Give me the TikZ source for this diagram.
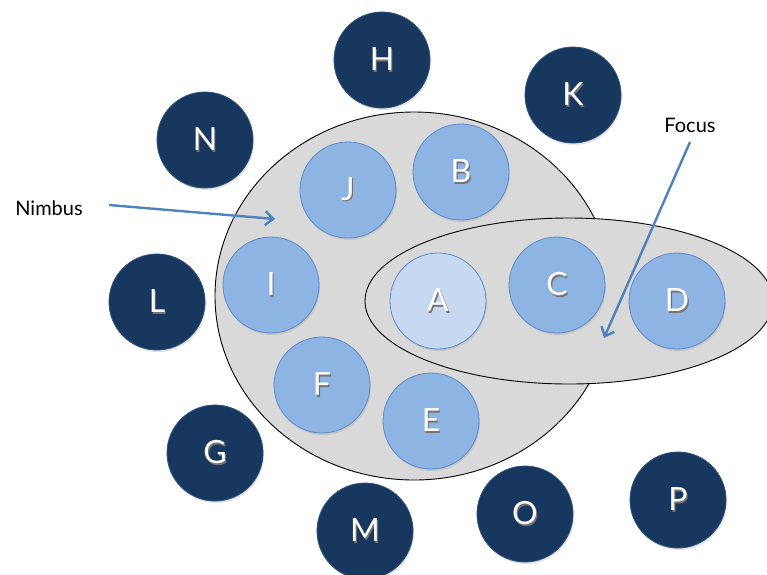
\documentclass[tikz,border=0pt]{standalone}
\usepackage{fontspec}
\setmainfont{Lato}
\usetikzlibrary{shapes.geometric,arrows.meta,shadows}
\definecolor{nimbusgray}{HTML}{D9D9D9}
\definecolor{lightblue}{HTML}{8EB4E3}
\definecolor{paleblue}{HTML}{C6D9F1}
\definecolor{navy}{HTML}{17375E}
\definecolor{rim}{HTML}{5C8ACB}
\definecolor{arrowblue}{HTML}{4F81BD}
\newcommand\lettershadow[1]{\rlap{\kern1.2pt\raisebox{-1.2pt}{\textcolor{black!55}{#1}}}#1}
\begin{document}
\begin{tikzpicture}[x=1pt,y=-1pt,
  region/.style={draw=black, line width=0.9pt, fill=nimbusgray, ellipse, inner sep=0pt},
  member/.style={circle, minimum size=96pt, inner sep=0pt, line width=0.8pt, draw=rim,
    font=\fontsize{32}{32}\selectfont, text=white,
    drop shadow={opacity=0.22, shadow xshift=1pt, shadow yshift=-2pt}},
  innerm/.style={member, fill=lightblue},
  selfm/.style={member, fill=paleblue},
  outerm/.style={member, fill=navy, draw=navy!70!rim},
  pointer/.style={draw=arrowblue, line width=2.4pt, -{Straight Barb[length=8pt,width=14pt]}},
  caption/.style={font=\fontsize{20}{20}\selectfont, text=black, inner sep=0pt}]
\useasboundingbox (0,0) rectangle (767,574);
\clip (0,0) rectangle (767,574);
% regions
\node[region, minimum width=398pt, minimum height=368pt] (nimbus) at (414,296) {};
\node[region, minimum width=408pt, minimum height=166pt] (focus) at (569,301) {};
% inner members
\node[innerm] (J) at (348,190) {\lettershadow{J}};
\node[innerm] (B) at (461,172) {\lettershadow{B}};
\node[innerm] (I) at (271,285) {\lettershadow{I}};
\node[selfm]  (A) at (438,301) {\lettershadow{A}};
\node[innerm] (C) at (557,285) {\lettershadow{C}};
\node[innerm] (D) at (677,301) {\lettershadow{D}};
\node[innerm] (F) at (322,385) {\lettershadow{F}};
\node[innerm] (E) at (431,421) {\lettershadow{E}};
% outer members
\node[outerm] (H) at (382,60)  {\lettershadow{H}};
\node[outerm] (K) at (573,95)  {\lettershadow{K}};
\node[outerm] (N) at (205,140) {\lettershadow{N}};
\node[outerm] (L) at (157,302) {\lettershadow{L}};
\node[outerm] (G) at (215,453) {\lettershadow{G}};
\node[outerm] (M) at (365,531) {\lettershadow{M}};
\node[outerm] (O) at (525,514) {\lettershadow{O}};
\node[outerm] (P) at (678,500) {\lettershadow{P}};
% captions
\node[caption] (nimbuslabel) at (49,208) {Nimbus};
\node[caption] (focuslabel) at (690,125) {Focus};
% pointers
\coordinate (nimbustail) at (109,205);
\coordinate (nimbustip) at (275,219);
\coordinate (focustail) at (690,142);
\coordinate (focustip) at (604,338);
\draw[pointer] (nimbustail) -- (nimbustip);
\draw[pointer] (focustail) -- (focustip);
\end{tikzpicture}
\end{document}
